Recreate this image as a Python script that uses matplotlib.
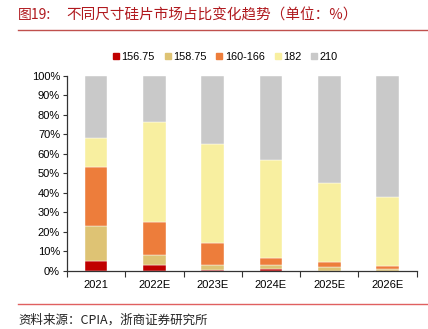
import matplotlib
matplotlib.use("Agg")
import matplotlib.pyplot as plt
import numpy as np
from matplotlib.lines import Line2D

plt.rcParams['font.family'] = ['Liberation Sans', 'Noto Sans CJK SC', 'DejaVu Sans']

categories = ["2021", "2022E", "2023E", "2024E", "2025E", "2026E"]
series_names = ["156.75", "158.75", "160-166", "182", "210"]
s156 = [5.0, 3.0, 0.5, 0.7, 0.0, 0.0]
s158 = [18.0, 5.0, 2.2, 2.0, 1.7, 0.7]
s160 = [30.0, 17.0, 11.3, 3.8, 2.9, 1.9]
s182 = [15.0, 51.0, 51.0, 50.5, 40.4, 35.4]
s210 = [32.0, 24.0, 35.0, 43.0, 55.0, 62.0]
colors = ["#C00000", "#DEC374", "#ED7D3B", "#F8EFA0", "#C9C9C9"]
yticks = [0, 10, 20, 30, 40, 50, 60, 70, 80, 90, 100]

fig = plt.figure(figsize=(4.28, 3.29), dpi=100)
ax = fig.add_axes([0.1565, 0.177, 0.817, 0.593])

x = np.arange(len(categories))
bottom = np.zeros(len(categories))
handles = []
for name, vals, c in zip(series_names, [s156, s158, s160, s182, s210], colors):
    ax.bar(x, vals, bottom=bottom, width=0.39, color=c, edgecolor="white", linewidth=0.3)
    bottom += np.array(vals)
    handles.append(Line2D([], [], marker='s', linestyle='none', markersize=4.5,
                          markerfacecolor=c, markeredgecolor=c, label=name))

ax.set_xlim(-0.5, len(categories) - 0.5)
ax.set_ylim(0, 100)
ax.set_yticks(yticks)
ax.set_yticklabels([f"{v}%" for v in yticks], fontsize=8)
ax.set_xticks(x)
ax.set_xticklabels(categories, fontsize=8)
ax.set_xticks(np.arange(-0.5, len(categories), 1.0), minor=True)
ax.tick_params(axis='x', which='major', length=0, pad=7)
ax.tick_params(axis='x', which='minor', length=4, width=0.8, color="#333333", direction='out')
ax.tick_params(axis='y', length=3, width=0.8, color="#333333", pad=2)
for s in ["top", "right"]:
    ax.spines[s].set_visible(False)
for s in ["left", "bottom"]:
    ax.spines[s].set_color("#333333")
    ax.spines[s].set_linewidth(0.9)

fig.legend(handles=handles, loc='center', bbox_to_anchor=(0.525, 0.827), ncol=5,
           frameon=False, fontsize=7.8, handletextpad=0.1, columnspacing=0.8,
           handlelength=0.8)

fig.text(0.042, 0.953, "图19:", fontsize=10, color="#B0191E", va='center',
         family=['Noto Sans CJK SC'])
fig.text(0.155, 0.953, "不同尺寸硅片市场占比变化趋势（单位：%）", fontsize=10.5,
         color="#B0191E", va='center', family=['Noto Sans CJK SC', 'DejaVu Sans'])
fig.add_artist(Line2D([0.042, 1.0], [0.909, 0.909], color="#C0504D", linewidth=1.0))
fig.add_artist(Line2D([0.042, 1.0], [0.076, 0.076], color="#E06060", linewidth=1.0))
fig.text(0.042, 0.027, "资料来源：CPIA，浙商证券研究所", fontsize=9, color="#222222",
         va='center', family=['Noto Sans CJK SC', 'DejaVu Sans'])

fig.savefig("out.png", dpi=100)
